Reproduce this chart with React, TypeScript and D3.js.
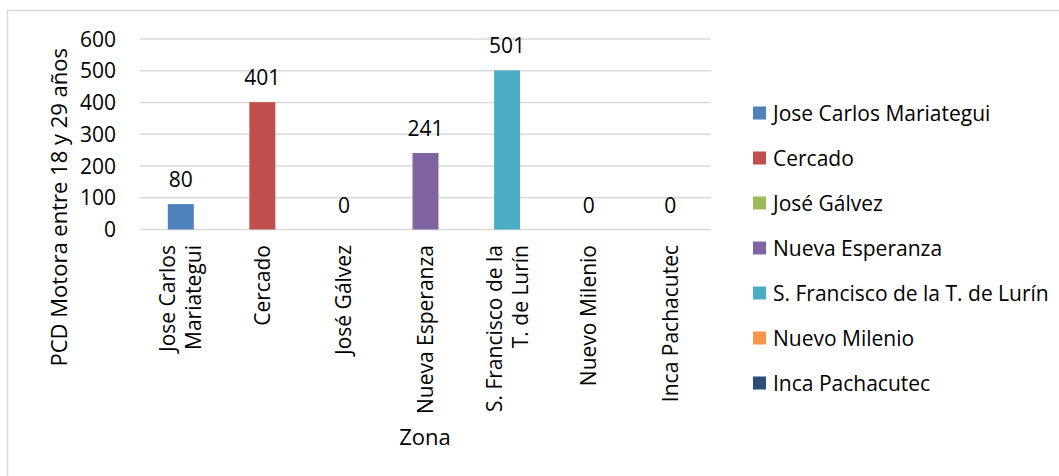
import React from "react";
import * as d3 from "d3";

const categories = [
  "Jose Carlos Mariategui",
  "Cercado",
  "José Gálvez",
  "Nueva Esperanza",
  "S. Francisco de la T. de Lurín",
  "Nuevo Milenio",
  "Inca Pachacutec",
];
const axisLabelLines = [
  ["Jose Carlos", "Mariategui"],
  ["Cercado"],
  ["José Gálvez"],
  ["Nueva Esperanza"],
  ["S. Francisco de la", "T. de Lurín"],
  ["Nuevo Milenio"],
  ["Inca Pachacutec"],
];
const values = [80, 401, 0, 241, 501, 0, 0];
const colors = ["#4f81bd", "#c0504d", "#9bbb59", "#8064a2", "#4bacc6", "#f79646", "#2c4d75"];
const yTicks = [0, 100, 200, 300, 400, 500, 600];
const yTitle = "PCD Motora entre 18 y 29 años";
const xTitle = "Zona";

const FONT = "'Open Sans', sans-serif";

export default function App() {
  const W = 1059;
  const H = 476;
  const left = 140;
  const right = 711;
  const top = 39;
  const bottom = 229.5;
  const x = d3.scaleBand<string>().domain(categories).range([left, right]).padding(0);
  const y = d3.scaleLinear().domain([0, 600]).range([bottom, top]);
  const barW = 26;
  const fs = 21;

  return (
    <svg width={W} height={H} style={{ position: "absolute", left: 0, top: 0, background: "#fff" }} fontFamily={FONT}>
      <rect x={7.5} y={10.5} width={W + 20} height={H + 20} fill="#fff" stroke="#d9d9d9" strokeWidth={1.5} />
      {yTicks.map((t) => (
        <g key={t}>
          <line x1={left} x2={right} y1={y(t)} y2={y(t)} stroke="#d9d9d9" strokeWidth={1.3} />
          <text x={116} y={y(t)} dy="0.36em" textAnchor="end" fontSize={fs} fill="#000">
            {t}
          </text>
        </g>
      ))}
      {categories.map((c, i) => {
        const cx = (x(c) as number) + x.bandwidth() / 2;
        const v = values[i];
        return (
          <g key={c}>
            {v > 0 && (
              <rect x={cx - barW / 2} y={y(v)} width={barW} height={y(0) - y(v)} fill={colors[i]} />
            )}
            <text x={cx} y={y(v) - 17} textAnchor="middle" fontSize={fs} fill="#000">
              {v}
            </text>
            {axisLabelLines[i].map((ln, j, arr) => {
              const off = 7.5 + (j - (arr.length - 1) / 2) * 26;
              return (
                <text
                  key={j}
                  transform={`translate(${cx + off},245) rotate(-90)`}
                  textAnchor="end"
                  fontSize={fs}
                  fill="#000"
                >
                  {ln}
                </text>
              );
            })}
          </g>
        );
      })}
      <text transform={`translate(67,48) rotate(-90)`} textAnchor="end" fontSize={22} fill="#000">
        {yTitle}
      </text>
      <text x={425} y={445} textAnchor="middle" fontSize={22} fill="#000">
        {xTitle}
      </text>
      {categories.map((c, i) => {
        const cy = 113 + i * 45;
        return (
          <g key={"lg" + c}>
            <rect x={753} y={cy - 6.5} width={13} height={13} fill={colors[i]} />
            <text x={773} y={cy} dy="0.36em" fontSize={fs} fill="#000">
              {c}
            </text>
          </g>
        );
      })}
    </svg>
  );
}
